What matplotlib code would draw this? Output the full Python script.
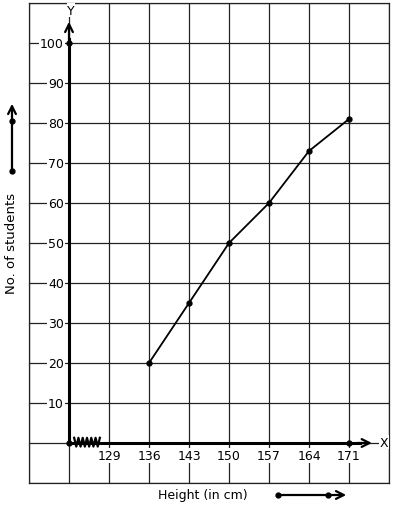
import numpy as np
import matplotlib.pyplot as plt

heights = [129, 136, 143, 150, 157, 164, 171]
students_h = [136, 143, 150, 157, 164, 171]
students = [20, 35, 50, 60, 73, 81]
yticks = [10, 20, 30, 40, 50, 60, 70, 80, 90, 100]

fig = plt.figure(figsize=(3.94, 5.10), dpi=100)
ax = fig.add_axes([29/394, 26/510, 360/394, 480/510])

ax.set_xlim(115, 178)
ax.set_ylim(-10, 110)
ax.set_xticks(np.arange(115, 179, 7))
ax.set_yticks(np.arange(-10, 111, 10))
ax.set_xticklabels([])
ax.set_yticklabels([])
ax.tick_params(length=0)
ax.grid(True, color="#222222", linewidth=0.9)
for s in ax.spines.values():
    s.set_color("#222222")
    s.set_linewidth(0.9)

# axes with arrows
ax.plot([122, 122], [0, 101], color="black", lw=2.2, zorder=4)
ax.annotate("", xy=(122, 106), xytext=(122, 100),
            arrowprops=dict(arrowstyle="->", lw=1.6, color="black", mutation_scale=14), zorder=5)
ax.plot([122, 173], [0, 0], color="black", lw=2.2, zorder=4)
ax.annotate("", xy=(175.5, 0), xytext=(172, 0),
            arrowprops=dict(arrowstyle="->", lw=1.6, color="black", mutation_scale=14), zorder=5)
ax.text(122.3, 108.2, "Y", ha="center", va="center", fontsize=9, zorder=7,
        bbox=dict(facecolor="white", edgecolor="none", pad=0.3))
ax.text(177.1, 0.2, "X", ha="center", va="center", fontsize=9, zorder=6,
        bbox=dict(facecolor="white", edgecolor="none", pad=0.5))
ax.plot([122, 122, 171], [0, 100, 0], "o", color="black", ms=3.5, zorder=6)

# kink on x axis
zx = np.linspace(122.9, 127.4, 13)
zy = np.where(np.arange(13) % 2 == 0, 1.3, -0.9)
ax.plot(zx, zy, color="black", lw=1.6, zorder=5)

# tick labels
for h in heights:
    ax.text(h, -3.2, str(h), ha="center", va="center", fontsize=9, zorder=6,
            bbox=dict(facecolor="white", edgecolor="none", pad=0.6))
for v in yticks:
    ax.text(121.1, v, str(v), ha="right", va="center", fontsize=9, zorder=6,
            bbox=dict(facecolor="white", edgecolor="none", pad=0.6))

# data
ax.plot(students_h, students, color="black", lw=1.3, marker="o", ms=3.5, zorder=6)

# axis labels with arrows
fig.text(203/394, 1 - 496/510, "Height (in cm)", ha="center", va="center", fontsize=9)
fig.text(12/394, 1 - 243/510, "No. of students", ha="center", va="center", fontsize=9.5, rotation=90)

fig.add_artist(plt.Line2D([278/394, 340/394], [1 - 496/510, 1 - 496/510], color="black", lw=1.6))
fig.add_artist(plt.Line2D([278/394, 328/394], [1 - 496/510, 1 - 496/510], color="black", lw=0,
                          marker="o", ms=3.5))
ax.annotate("", xy=(349/394, 1 - 496/510), xytext=(335/394, 1 - 496/510), xycoords="figure fraction",
            arrowprops=dict(arrowstyle="->", lw=1.6, color="black", mutation_scale=14), annotation_clip=False)

fig.add_artist(plt.Line2D([12/394, 12/394], [1 - 172/510, 1 - 110/510], color="black", lw=1.6))
fig.add_artist(plt.Line2D([12/394, 12/394], [1 - 172/510, 1 - 122/510], color="black", lw=0,
                          marker="o", ms=3.5))
ax.annotate("", xy=(12/394, 1 - 102/510), xytext=(12/394, 1 - 115/510), xycoords="figure fraction",
            arrowprops=dict(arrowstyle="->", lw=1.6, color="black", mutation_scale=14), annotation_clip=False)

fig.savefig("out.png", dpi=100, facecolor="white")
